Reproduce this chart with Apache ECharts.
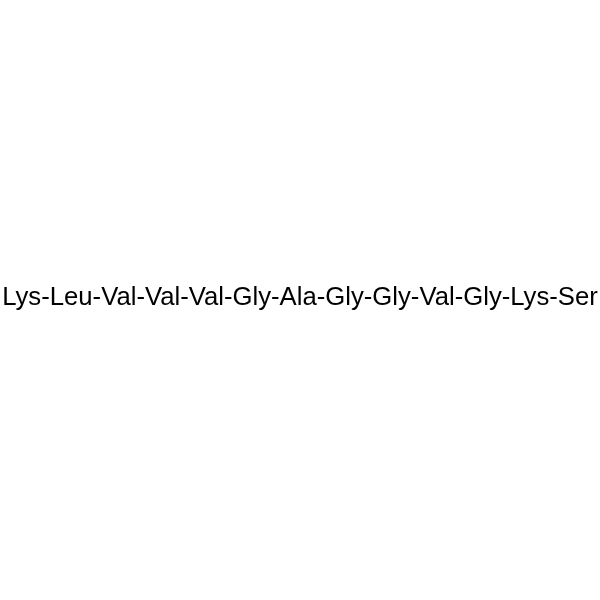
<!DOCTYPE html>
<html>
<head>
<meta charset="utf-8">
<script src="https://cdn.jsdelivr.net/npm/echarts@6/dist/echarts.min.js"></script>
<style>
  html, body { margin: 0; padding: 0; background: #fff; }
  #chart { width: 600px; height: 600px; }
</style>
</head>
<body>
<div id="chart"></div>
<script>
// peptide sequence
const residues = ['Lys', 'Leu', 'Val', 'Val', 'Val', 'Gly', 'Ala', 'Gly', 'Gly', 'Val', 'Gly', 'Lys', 'Ser'];

const chart = echarts.init(document.getElementById('chart'));

chart.setOption({
    backgroundColor: '#ffffff',
    animation: false,
    graphic: [
        {
            type: 'text',
            x: 300,
            y: 298,
            style: {
                text: residues.join('-'),
                fill: '#000000',
                font: '25.7px "Liberation Sans", Arial, sans-serif',
                align: 'center',
                verticalAlign: 'middle'
            }
        }
    ]
});
</script>
</body>
</html>
